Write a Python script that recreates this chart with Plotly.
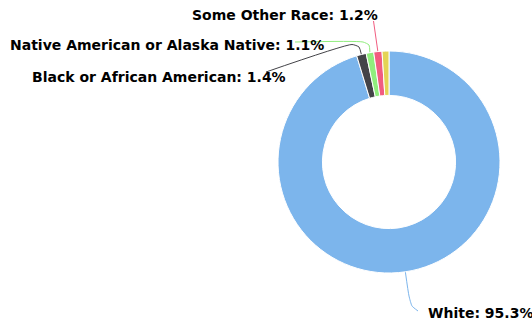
import math

import plotly.graph_objects as go

# race breakdown, percent
races = ['White', 'Black or African American', 'Native American or Alaska Native',
         'Some Other Race', 'Asian']
shares = [95.3, 1.4, 1.1, 1.2, 1.0]
colors = ['#7cb5ec', '#434348', '#90ed7d', '#f15c80', '#e4d354']
show_label = [True, True, True, True, False]

width, height = 532, 325
cx, cy, radius = 389, 162, 111  # donut centre / outer radius in px

# where each label sits (x, y, anchor) and the bend points of its connector
label_pos = {
    'White': (426, 313, 'left'),
    'Black or African American': (288, 77, 'right'),
    'Native American or Alaska Native': (326, 45, 'right'),
    'Some Other Race': (380, 15, 'right'),
}
connector_bends = {
    'White': [(409, 296), (412, 306), (418, 311)],
    'Black or African American': [(359, 47), (352, 44.5), (266, 72)],
    'Native American or Alaska Native': [(369, 45), (363, 42), (295, 42)],
    'Some Other Race': [(373.5, 21)],
}


def slice_edge(idx):
    total = sum(shares)
    mid = (sum(shares[:idx]) + shares[idx] / 2) / total * 2 * math.pi
    return cx + radius * math.sin(mid), cy - radius * math.cos(mid)


fig = go.Figure()

annotations = []
for i, name in enumerate(races):
    if not show_label[i]:
        continue
    x0, y0 = slice_edge(i)
    pts = [(x0, y0)] + connector_bends[name]
    fig.add_trace(go.Scatter(
        x=[p[0] for p in pts], y=[p[1] for p in pts], mode='lines',
        line=dict(color=colors[i], width=1, shape='spline', smoothing=0.5),
        hoverinfo='skip', showlegend=False,
    ))
    lx, ly, anchor = label_pos[name]
    annotations.append(dict(
        x=lx, y=ly, xref='x', yref='y', xanchor=anchor, yanchor='middle',
        text='%s: %.1f%%' % (name, shares[i]), showarrow=False,
        font=dict(family='DejaVu Sans', size=14, color='#000000', weight='bold'),
    ))

fig.add_trace(go.Pie(
    labels=races, values=shares, sort=False, direction='clockwise', rotation=0,
    hole=0.6, textinfo='none', hoverinfo='label+percent',
    marker=dict(colors=colors, line=dict(color='#ffffff', width=1)),
    domain=dict(x=[(cx - radius) / width, (cx + radius) / width],
                y=[(height - cy - radius) / height, (height - cy + radius) / height]),
    showlegend=False,
))

fig.update_layout(
    width=width, height=height,
    margin=dict(l=0, r=0, t=0, b=0),
    paper_bgcolor='#ffffff', plot_bgcolor='rgba(0,0,0,0)',
    xaxis=dict(range=[0, width], visible=False, fixedrange=True),
    yaxis=dict(range=[height, 0], visible=False, fixedrange=True),
    annotations=annotations,
    showlegend=False,
)

# page body has an 8px margin by default, drop it so the chart sits at 0,0
fig.write_html('out.html', config={'displayModeBar': False},
               post_script="document.body.style.margin='0';")
